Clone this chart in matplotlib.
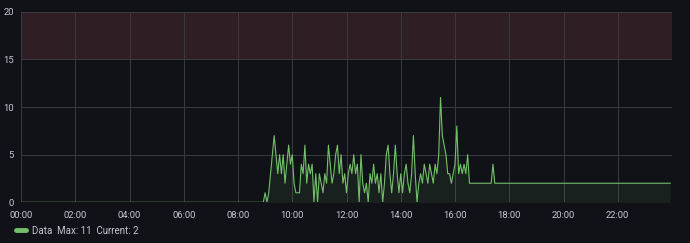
import matplotlib
matplotlib.use("Agg")
import matplotlib.pyplot as plt
import numpy as np

# samples every 4 minutes, starting 00:00
step_min = 4
# 00:00 - 08:52 : nothing
quiet = [0] * 134
# 08:56 - 16:36 : busy period
busy = [0, 1, 0, 1, 3, 5, 7, 5, 3, 5, 3, 5, 2, 4, 6, 4, 5, 2, 1, 1,
        1, 4, 3, 6, 2, 4, 3, 4, 0, 3, 0, 3, 2, 1, 3, 2, 6, 4, 2, 3,
        5, 6, 3, 5, 2, 3, 1, 3, 4, 3, 5, 3, 4, 0, 5, 2, 1, 2, 0, 3,
        2, 4, 2, 3, 1, 3, 0, 2, 5, 6, 3, 1, 3, 6, 3, 1, 3, 1, 3, 4,
        2, 1, 3, 7, 3, 0, 2, 3, 2, 4, 3, 2, 4, 3, 2, 4, 3, 5, 11, 7,
        6, 5, 3, 3, 2, 3, 4, 8, 3, 4, 3, 4, 3, 5, 2, 2]
# 16:40 - 23:56 : steady
tail = [2] * 11 + [4] + [2] * 98

values = np.array(quiet + busy + tail, dtype=float)
hours = np.arange(len(values)) * step_min / 60.0

bg = "#111217"
green = "#73bf69"
txt = "#c7c7d1"

plt.rcParams["font.family"] = ["Roboto", "DejaVu Sans"]

fig = plt.figure(figsize=(6.9, 2.43), dpi=100, facecolor=bg)
ax = fig.add_axes([21 / 690, 40.7 / 243, 651 / 690, 190.6 / 243])
ax.set_facecolor(bg)

# threshold band
ax.axhspan(15, 20, color="#2f1f24", zorder=0, lw=0)

ax.fill_between(hours, values, 0, color=green, alpha=0.09, lw=0, zorder=2)
ax.plot(hours, values, color=green, lw=0.8, zorder=3,
        label="Data  Max: %d  Current: %d" % (values.max(), values[-1]))

ax.set_xlim(0, 24)
ax.set_ylim(0, 20)
ax.set_xticks(np.arange(0, 24, 2))
ax.set_xticklabels(["%02d:00" % h for h in range(0, 24, 2)])
ax.set_yticks([0, 5, 10, 15, 20])

ax.grid(True, color="#3a3b40", lw=0.7, zorder=1)
ax.set_axisbelow(True)
for s in ax.spines.values():
    s.set_visible(False)
ax.tick_params(length=0, colors=txt, labelsize=6.8)
ax.tick_params(axis="x", pad=6)
ax.tick_params(axis="y", pad=5)

leg = fig.legend(loc="center left", bbox_to_anchor=(7 / 690, 1 - 230.7 / 243),
                 frameon=False, fontsize=7, handlelength=1.1, handletextpad=0.6,
                 labelcolor=txt)
for h in leg.get_lines():
    h.set_linewidth(3.5)
    h.set_solid_capstyle("round")

fig.savefig("out.png", dpi=100, facecolor=bg)
